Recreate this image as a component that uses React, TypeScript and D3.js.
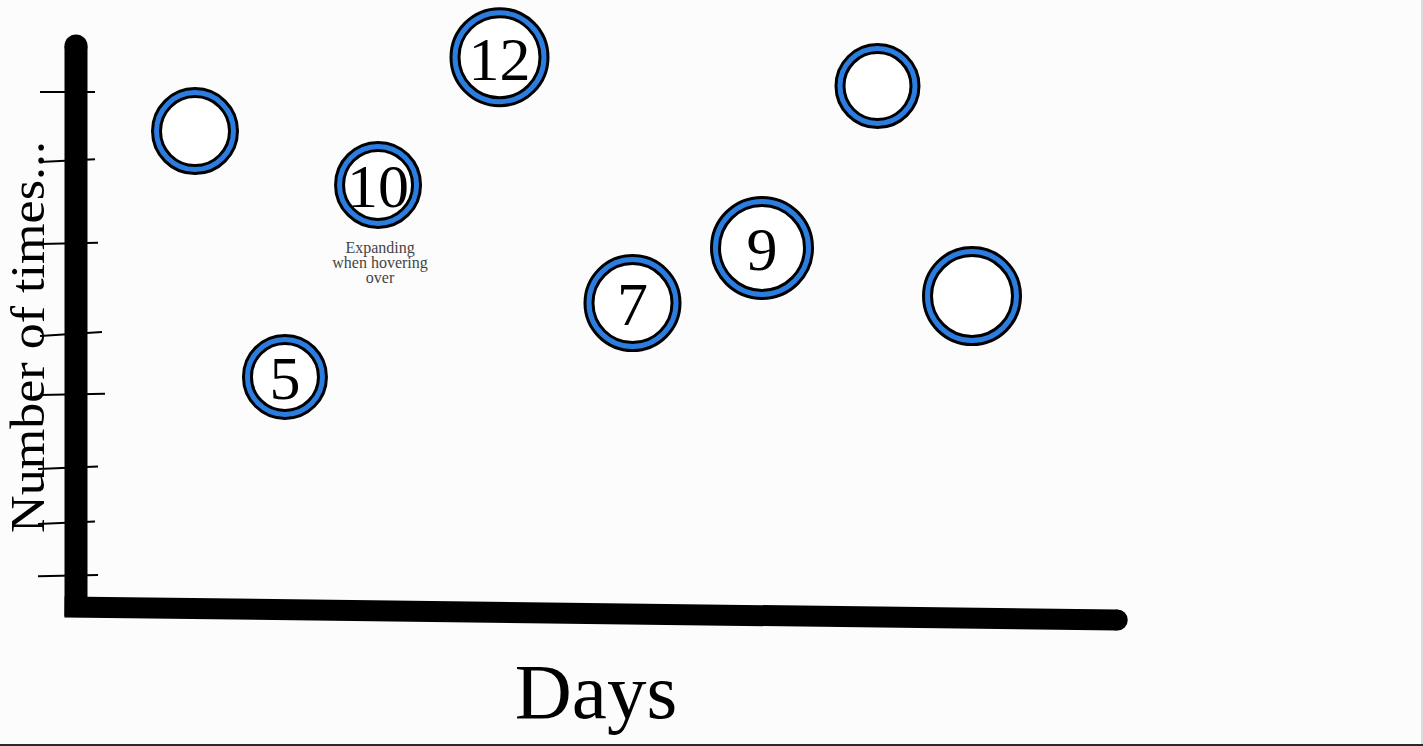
import React from "react";
import * as d3 from "d3";

const W = 1423;
const H = 746;

// data
const days = [3.4, 5.97, 8.63, 12.1, 15.9, 19.6, 22.9, 25.6];
const counts = [16.96, 8.18, 15.04, 19.6, 10.82, 12.79, 18.57, 11.07];
const sizes = [44, 43, 44, 50, 49, 52, 43, 50];
const labels = ["", "5", "10", "12", "7", "9", "", ""];
const yTicks = [18.36, 15.93, 12.96, 9.75, 7.57, 4.96, 3.0, 1.1];
const tickLeft = [36, 36, 36, 36, 36, 38, 38, 38];
const tickRight = [19, 19, 22, 26, 29, 22, 19, 22];
const tickTilt = [0, 2, 1, 3, 1, 2, 2, 1];
const note = ["Expanding", "when hovering", "over"];

const x = d3.scaleLinear().domain([0, 30]).range([76, 1126]);
const y = d3.scaleLinear().domain([0, 20]).range([606, 46]);
const rScale = d3.scaleLinear().domain([0, 1]).range([0, 1]);

const BLUE = "#2b7de0";
const FONT = "'Liberation Serif', 'DejaVu Serif', serif";

export default function App() {
  const x0 = x(0);
  const y0 = y(0);
  const xEnd = x(29.75);
  return (
    <svg
      width={W}
      height={H}
      style={{ position: "absolute", left: 0, top: 0, display: "block" }}
      fontFamily={FONT}
    >
      <rect x={0} y={0} width={W} height={H} fill="#fcfcfc" />
      <rect x={W - 2} y={0} width={2} height={H} fill="#dcdcdc" />
      <rect x={0} y={H - 2} width={W} height={2} fill="#2a2a2a" />

      {/* ticks */}
      {yTicks.map((t, i) => (
        <line
          key={i}
          x1={x0 - tickLeft[i]}
          x2={x0 + tickRight[i]}
          y1={y(t) + tickTilt[i]}
          y2={y(t) - tickTilt[i] * 0.3}
          stroke="#000"
          strokeWidth={2}
        />
      ))}

      {/* y axis */}
      <line x1={x0} x2={x0} y1={y(20)} y2={y0 + 10} stroke="#000" strokeWidth={23} />
      <circle cx={x0} cy={y(20)} r={11.5} fill="#000" />
      {/* x axis */}
      <line x1={x0 - 11.5} x2={xEnd} y1={y0 + 1} y2={y0 + 14} stroke="#000" strokeWidth={21} />
      <circle cx={xEnd} cy={y0 + 14} r={10.5} fill="#000" />

      {/* axis titles */}
      <text
        transform={`translate(44,337) rotate(-90)`}
        textAnchor="middle"
        fontSize={49}
        textLength={392}
        lengthAdjust="spacingAndGlyphs"
        fill="#000"
      >
        Number of times...
      </text>
      <text x={596} y={718} textAnchor="middle" fontSize={79} fill="#000">
        Days
      </text>

      {/* points */}
      {days.map((d, i) => {
        const cx = x(d);
        const cy = y(counts[i]);
        const R = rScale(sizes[i]);
        return (
          <g key={i}>
            <circle cx={cx} cy={cy} r={R - 5.5} fill="#fff" stroke="#000" strokeWidth={11} />
            <circle cx={cx} cy={cy} r={R - 5.5} fill="none" stroke={BLUE} strokeWidth={5} />
            {labels[i] && (
              <text x={cx} y={cy} dy="0.36em" textAnchor="middle" fontSize={62} fill="#000">
                {labels[i]}
              </text>
            )}
          </g>
        );
      })}

      {/* annotation */}
      {note.map((n, i) => (
        <text
          key={i}
          x={x(days[2]) + 2}
          y={y(counts[2]) + 68 + i * 15}
          textAnchor="middle"
          fontSize={16}
          fill="#444"
        >
          {n}
        </text>
      ))}
    </svg>
  );
}
